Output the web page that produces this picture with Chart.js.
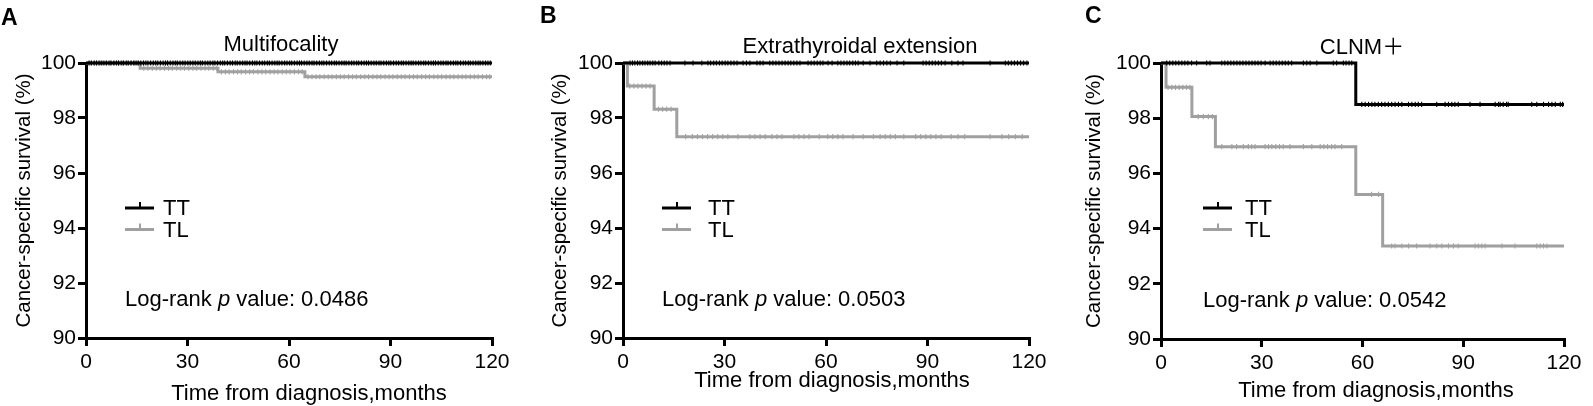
<!DOCTYPE html>
<html><head><meta charset="utf-8">
<script src="https://cdn.jsdelivr.net/npm/chart.js@4.4.1/dist/chart.umd.min.js"></script>
<style>
html,body{margin:0;padding:0;background:#fff;}
body{width:1593px;height:406px;overflow:hidden;position:relative;}
.p{position:absolute;top:0;width:531px;height:406px;}
</style></head><body>
<div class="p" style="left:0"><canvas id="c0" width="531" height="406"></canvas></div>
<div class="p" style="left:531px"><canvas id="c1" width="531" height="406"></canvas></div>
<div class="p" style="left:1062px"><canvas id="c2" width="531" height="406"></canvas></div>
<script>
// ---------- data ----------
const xTicks = [0, 30, 60, 90, 120];
const yTicks = [90, 92, 94, 96, 98, 100];
const groupNames = ['TT', 'TL'];
const panelLetters = ['A', 'B', 'C'];
const panelTitles = ['Multifocality', 'Extrathyroidal extension', 'CLNM\uFF0B'];
const pValues = ['0.0486', '0.0503', '0.0542'];
const xAxisTitle = 'Time from diagnosis,months';
const yAxisTitle = 'Cancer-specific survival (%)';

// Panel A (Multifocality)
const aTTTime = [0, 120];
const aTTSurv = [100, 100];
const aTLTime = [0, 16, 39, 64.7, 120];
const aTLSurv = [100, 99.81, 99.68, 99.5, 99.5];
const aTTCens = [0.9,1.6,2.4,3.1,3.9,4.5,5.3,6.0,6.8,7.4,8.2,9.0,9.6,10.4,11.1,11.9,12.5,13.3,14.1,14.8,15.4,16.2,17.0,17.7,18.3,19.1,19.9,20.6,21.2,22.0,22.8,23.5,24.1,24.9,25.7,26.4,27.0,27.8,28.6,29.3,30.1,30.8,31.6,32.3,33.1,33.8,34.4,35.2,36.0,36.7,37.5,38.1,38.9,39.7,40.4,41.0,41.8,42.6,43.3,44.1,44.7,45.5,46.3,47.0,47.6,48.4,49.2,49.9,50.5,51.3,52.1,52.8,53.6,54.2,55.0,55.8,56.5,57.1,57.9,58.7,59.4,60.2,60.8,61.6,62.4,63.1,63.7,64.5,65.3,66.0,66.8,67.4,68.2,69.0,69.7,70.3,71.1,71.9,72.6,73.4,74.0,74.8,75.6,76.3,76.9,77.7,78.5,79.2,80.0,80.6,81.4,82.2,82.9,83.5,84.3,85.1,85.8,86.6,87.2,88.0,88.8,89.5,90.1,90.9,91.7,92.4,93.2,93.8,94.6,95.4,96.1,96.7,97.5,98.3,99.0,99.8,100.4,101.2,102.0,102.7,103.3,104.1,104.9,105.6,106.4,107.0,107.8,108.6,109.3,109.9,110.7,111.5,112.2,113.0,113.6,114.4,115.2,115.9,116.5,117.3,118.1,118.8,119.5];
const aTLCens = [1.2,2.5,3.6,4.9,6.1,7.2,8.5,9.7,10.8,12.1,13.3,14.4,15.5,17.1,18.3,19.6,20.8,21.9,23.2,24.4,25.5,26.8,28.0,29.1,30.4,31.6,32.7,34.0,35.2,36.3,37.6,38.6,40.0,41.2,42.3,43.6,44.8,45.9,47.2,48.4,49.5,50.8,52.0,53.1,54.4,55.6,56.7,58.0,59.2,60.3,61.6,62.8,63.9,65.6,66.8,68.0,69.1,70.4,71.6,72.7,74.0,75.2,76.3,77.6,78.8,79.9,81.2,82.4,83.5,84.8,86.0,87.1,88.4,89.6,90.7,92.0,93.2,94.3,95.6,96.8,97.9,99.2,100.4,101.5,102.8,104.0,105.1,106.4,107.6,108.7,110.0,111.2,112.3,113.6,114.8,115.9,117.2,118.4,119.3];

// Panel B (Extrathyroidal extension)
const bTTTime = [0, 120];
const bTTSurv = [100, 100];
const bTLTime = [0, 1.3, 9.2, 15.9, 120];
const bTLSurv = [100, 99.16, 98.32, 97.32, 97.32];
const bTTCens = [2.1,2.8,3.5,4.3,5.0,5.8,6.5,7.3,8.0,8.8,9.5,10.6,11.4,12.2,13.0,13.9,18.3,20.7,23.3,25.1,25.9,26.8,27.6,28.5,29.3,30.2,31.0,31.9,32.8,33.7,35.5,36.5,37.5,39.6,40.5,41.4,43.4,44.3,45.2,46.1,47.0,47.9,48.8,49.6,50.5,51.4,52.3,54.7,55.6,56.5,57.4,58.3,59.1,60.6,61.8,63.5,64.4,65.3,66.2,67.0,67.9,68.7,69.5,71.0,73.0,75.0,76.0,77.0,78.0,79.0,81.0,83.0,88.7,89.6,90.5,91.4,92.3,93.2,94.1,95.2,97.2,99.0,100.5,108.5,113.0,113.9,114.8,115.7,116.6,117.5,118.4,119.4];
const bTLCens = [2.0,3.2,4.4,5.6,6.8,8.0,10.5,11.7,12.9,14.2,18.5,20.5,22.0,23.5,25.0,26.5,28.0,29.5,31.0,34.0,37.5,39.0,40.5,42.0,44.0,45.5,47.0,50.5,52.0,53.5,55.0,58.0,60.5,62.0,63.5,65.0,68.0,71.0,74.0,76.0,77.5,79.0,80.5,83.0,86.5,88.0,89.5,91.0,92.5,94.0,97.0,99.0,101.0,108.5,112.0,114.0,116.0,118.0];

// Panel C (CLNM+)
const cTTTime = [0, 58, 120];
const cTTSurv = [100, 98.5, 98.5];
const cTLTime = [0, 1.5, 9.2, 16.2, 58, 66, 120];
const cTLSurv = [100, 99.12, 98.06, 96.97, 95.24, 93.37, 93.37];
const cTTCens = [1.7,2.6,3.5,4.4,5.3,6.2,7.1,8.0,9.1,10.6,13.6,14.6,18.1,19.0,19.9,20.8,21.7,22.6,23.5,24.4,25.3,26.2,27.1,28.0,28.9,29.8,31.0,32.5,33.4,34.3,35.2,36.1,37.0,37.9,38.9,42.4,43.4,44.4,46.4,51.3,52.3,54.3,55.1,56.0,56.8,59.8,60.8,61.8,62.8,63.7,64.7,65.7,66.7,67.7,68.7,69.7,70.7,71.7,73.7,74.7,75.7,76.6,77.6,82.1,84.6,85.6,86.6,87.5,88.5,92.0,95.0,99.5,100.5,101.0,101.9,102.9,103.4,110.4,111.9,113.9,115.4,116.4,117.4,118.9,119.6];
const cTLCens = [2.1,3.2,4.3,5.4,6.5,7.6,8.6,11.1,12.6,14.1,15.3,18.1,21.1,22.5,24.5,26.0,27.0,28.0,31.0,32.0,33.0,34.2,35.3,36.4,38.4,42.4,44.9,47.4,48.5,49.6,50.8,51.8,53.8,62.7,64.8,68.7,69.7,71.7,73.7,76.1,80.1,82.1,83.6,85.6,87.1,88.5,93.5,94.5,95.5,96.5,101.5,105.4,111.9,112.9,113.9,114.9];

// ---------- presentation ----------
const BLACK = '#000000';
const GRAY = '#a0a0a0';
const FONT = '"Liberation Sans", Arial, "Noto Sans CJK SC", sans-serif';

const LAYOUT = [
  {area:[86,63,492,338], yTitlePad:12, title:[281,51], xTitle:[309,400], legend:[125,163], p:[125,306], letter:[1,25]},
  {area:[92,63,498,338], yTitlePad:17, title:[329,53], xTitle:[301,387], legend:[131,177], p:[131,306], letter:[9,23]},
  {area:[99,63,502,339], yTitlePad:20, title:[300,54], xTitle:[314,397], legend:[141,183], p:[141,307], letter:[23,23]}
];
const LEG_LINE_Y = [208, 229.5];
const LEG_TEXT_Y = [215, 237];

const PANELS = [
  {tt:[aTTTime,aTTSurv,aTTCens], tl:[aTLTime,aTLSurv,aTLCens]},
  {tt:[bTTTime,bTTSurv,bTTCens], tl:[bTLTime,bTLSurv,bTLCens]},
  {tt:[cTTTime,cTTSurv,cTTCens], tl:[cTLTime,cTLSurv,cTLCens]}
];

function survAt(times, surv, t){
  let v = surv[0];
  for (let i = 0; i < times.length; i++){ if (times[i] <= t) v = surv[i]; }
  return v;
}
function curve(times, surv, color){
  return {type:'line', data: times.map((t,i)=>({x:t, y:surv[i]})), stepped:'before',
    borderColor:color, borderWidth:3, pointRadius:0, pointHoverRadius:0, fill:false, clip:false,
    borderCapStyle:'butt', borderJoinStyle:'miter'};
}
function censor(ct, times, surv, color){
  return {type:'scatter', data: ct.map(t=>({x:t, y:survAt(times, surv, t)})), showLine:false,
    pointStyle:'line', rotation:90, pointRadius:2.6, pointHoverRadius:0,
    borderColor:color, backgroundColor:color, borderWidth:1.1, clip:false};
}

const textPlugin = {
  id: 'panelText',
  afterDraw(chart, args, opts){
    const i = opts.index, L = LAYOUT[i], ctx = chart.ctx;
    ctx.save();
    ctx.fillStyle = BLACK;
    ctx.textBaseline = 'alphabetic';
    ctx.font = 'bold 23px ' + FONT;
    ctx.textAlign = 'left';
    ctx.fillText(panelLetters[i], L.letter[0], L.letter[1]);
    ctx.font = '22px ' + FONT;
    ctx.textAlign = 'center';
    ctx.fillText(panelTitles[i], L.title[0], L.title[1]);
    ctx.font = '22px ' + FONT;
    ctx.fillText(xAxisTitle, L.xTitle[0], L.xTitle[1]);
    const colors = [BLACK, GRAY];
    for (let g = 0; g < 2; g++){
      const x0 = L.legend[0], y = LEG_LINE_Y[g];
      ctx.strokeStyle = colors[g];
      ctx.lineWidth = 3;
      ctx.beginPath(); ctx.moveTo(x0, y); ctx.lineTo(x0 + 29, y); ctx.stroke();
      ctx.lineWidth = 2;
      ctx.beginPath(); ctx.moveTo(x0 + 15, y - 6); ctx.lineTo(x0 + 15, y); ctx.stroke();
      ctx.font = '22px ' + FONT;
      ctx.textAlign = 'left';
      ctx.fillText(groupNames[g], L.legend[1], LEG_TEXT_Y[g]);
    }
    ctx.textAlign = 'left';
    let x = L.p[0];
    const parts = [['Log-rank ', ''], ['p', 'italic '], [' value: ' + pValues[i], '']];
    for (const [s, st] of parts){
      ctx.font = st + '22px ' + FONT;
      ctx.fillText(s, x, L.p[1]);
      x += ctx.measureText(s).width;
    }
    ctx.restore();
  }
};

function makeChart(i){
  const L = LAYOUT[i], P = PANELS[i];
  const axisGrid = {display:true, drawOnChartArea:false, drawTicks:true, tickLength:8, lineWidth:3, color:BLACK};
  const axisBorder = {display:true, width:3, color:BLACK};
  new Chart(document.getElementById('c' + i), {
    type: 'line',
    data: {datasets: [
      curve(P.tt[0], P.tt[1], BLACK),
      censor(P.tt[2], P.tt[0], P.tt[1], BLACK),
      curve(P.tl[0], P.tl[1], GRAY),
      censor(P.tl[2], P.tl[0], P.tl[1], GRAY)
    ]},
    options: {
      responsive: false,
      animation: false,
      events: [],
      layout: {padding: {left:0, top:L.area[1], right:531 - L.area[2], bottom:0}},
      plugins: {legend:{display:false}, tooltip:{enabled:false}, title:{display:false}, panelText:{index:i}},
      scales: {
        x: {
          type:'linear', min:0, max:120,
          afterBuildTicks: s => { s.ticks = xTicks.map(v => ({value:v})); },
          afterFit: s => { s.height = 406 - L.area[3]; },
          ticks: {font:{family:FONT, size:21}, color:BLACK, padding:4, maxRotation:0, autoSkip:false},
          grid: axisGrid, border: axisBorder
        },
        y: {
          type:'linear', min:90, max:100,
          afterBuildTicks: s => { s.ticks = yTicks.map(v => ({value:v})); },
          afterFit: s => { s.width = L.area[0]; },
          ticks: {font:{family:FONT, size:21}, color:BLACK, padding:2, autoSkip:false},
          grid: axisGrid, border: axisBorder,
          title: {display:true, text:yAxisTitle, color:BLACK, font:{family:FONT, size:20.5}, padding:{top:L.yTitlePad, bottom:0}}
        }
      }
    },
    plugins: [textPlugin]
  });
}
[0,1,2].forEach(makeChart);
</script>
</body></html>
